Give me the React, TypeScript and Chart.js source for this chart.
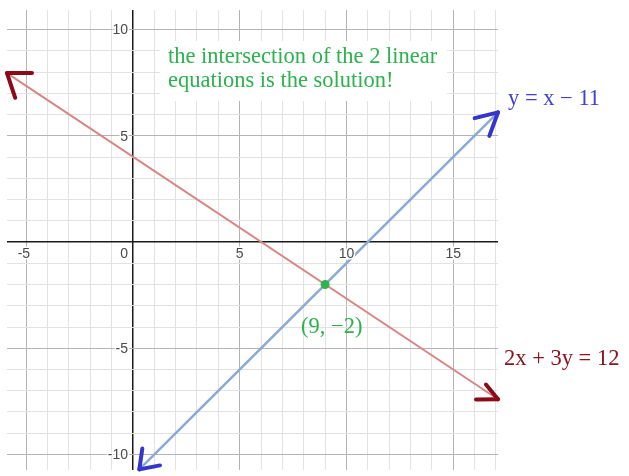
import React, { useEffect, useRef } from "react";
import { Chart, registerables } from "chart.js";

Chart.register(...registerables);

// ---- data ----
const xTickLabels = [-5, 0, 5, 10, 15];
const yTickLabels = [10, 5, -5, -10];

const redLineX = [-5.9, 17.1];
const redLineY = [7.95, -7.4];

const blueLineX = [0.3, 17.1];
const blueLineY = [-10.7, 6.1];

const solutionX = [9];
const solutionY = [-2];

const noteLines = ["the intersection of the 2 linear", "equations is the solution!"];
const blueLabel = "y = x \u2212 11";
const redLabel = "2x + 3y = 12";
const pointLabel = "(9, \u22122)";

const X_MIN = -5.9;
const X_MAX = 17.1;
const Y_MIN = -10.73;
const Y_MAX = 10.92;

const SERIF = '"Liberation Serif", "Times New Roman", serif';
const SANS = '"Liberation Sans", Arial, sans-serif';

const integerTicks = (scale: any) => {
  const ticks = [];
  for (let v = Math.ceil(scale.min); v <= Math.floor(scale.max); v++) ticks.push({ value: v });
  scale.ticks = ticks;
};

const gridColor = (c: any) =>
  c.tick.value === 0 ? "#1a1a1a" : c.tick.value % 5 === 0 ? "#b4b4b4" : "#e2e2e2";
const gridWidth = (c: any) => (c.tick.value === 0 ? 1.5 : 1);

const arrowPlugin = {
  id: "arrowheads",
  afterDatasetsDraw(chart: any) {
    const ctx = chart.ctx;
    chart.data.datasets.forEach((ds: any, i: number) => {
      if (!ds.arrows) return;
      const pts = chart.getDatasetMeta(i).data;
      if (pts.length < 2) return;
      const ends = [
        { tip: pts[0], next: pts[1], cfg: ds.arrows.start },
        { tip: pts[pts.length - 1], next: pts[pts.length - 2], cfg: ds.arrows.end },
      ];
      ctx.save();
      ctx.strokeStyle = ds.arrows.color;
      ctx.lineWidth = 4;
      ctx.lineCap = "round";
      ends.forEach(({ tip, next, cfg }) => {
        const back = Math.atan2(next.y - tip.y, next.x - tip.x);
        cfg.forEach(([deg, len]: [number, number]) => {
          const a = back + (deg * Math.PI) / 180;
          ctx.beginPath();
          ctx.moveTo(tip.x, tip.y);
          ctx.lineTo(tip.x + Math.cos(a) * len, tip.y + Math.sin(a) * len);
          ctx.stroke();
        });
      });
      ctx.restore();
    });
  },
};

const labelPlugin = {
  id: "desmosLabels",
  afterDatasetsDraw(chart: any) {
    const ctx = chart.ctx;
    const xs = chart.scales.x;
    const ys = chart.scales.y;
    const x0 = xs.getPixelForValue(0);
    const y0 = ys.getPixelForValue(0);

    ctx.save();
    ctx.font = `14px ${SANS}`;
    ctx.fillStyle = "#4a4a4a";
    ctx.strokeStyle = "#ffffff";
    ctx.lineWidth = 3;
    ctx.textBaseline = "middle";
    xTickLabels.forEach((v) => {
      const px = xs.getPixelForValue(v);
      const py = y0 + 12;
      if (v === 0) {
        ctx.textAlign = "right";
        ctx.strokeText("0", x0 - 5, py);
        ctx.fillText("0", x0 - 5, py);
        return;
      }
      const digits = String(Math.abs(v));
      const w = ctx.measureText(digits).width;
      ctx.textAlign = "left";
      const s = v < 0 ? "-" + digits : digits;
      const mw = v < 0 ? ctx.measureText("-").width : 0;
      ctx.strokeText(s, px - w / 2 - mw, py);
      ctx.fillText(s, px - w / 2 - mw, py);
    });
    ctx.textAlign = "right";
    yTickLabels.forEach((v) => {
      const py = ys.getPixelForValue(v);
      const s = String(v);
      ctx.strokeText(s, x0 - 5, py + 1);
      ctx.fillText(s, x0 - 5, py + 1);
    });

    ctx.fillStyle = "#ffffff";
    ctx.fillRect(160, 41, 287, 60);
    ctx.font = `22.5px ${SERIF}`;
    ctx.textAlign = "left";
    ctx.textBaseline = "alphabetic";
    ctx.fillStyle = "#2bb24c";
    ctx.fillText(noteLines[0], 168, 63);
    ctx.fillText(noteLines[1], 168, 87);

    const blueEnd = { x: xs.getPixelForValue(blueLineX[1]), y: ys.getPixelForValue(blueLineY[1]) };
    ctx.fillStyle = "#4141cf";
    ctx.fillText(blueLabel, blueEnd.x + 10, blueEnd.y - 7);

    const redEnd = { x: xs.getPixelForValue(redLineX[1]), y: ys.getPixelForValue(redLineY[1]) };
    ctx.fillStyle = "#8b1420";
    ctx.fillText(redLabel, redEnd.x + 6, redEnd.y - 34);

    const pt = { x: xs.getPixelForValue(solutionX[0]), y: ys.getPixelForValue(solutionY[0]) };
    ctx.fillStyle = "#2bb24c";
    ctx.fillText(pointLabel, pt.x - 24, pt.y + 48);
    ctx.restore();
  },
};

export default function App() {
  const ref = useRef<HTMLCanvasElement | null>(null);

  useEffect(() => {
    if (!ref.current) return;
    const chart = new Chart(ref.current, {
      type: "scatter",
      data: {
        datasets: [
          {
            label: "solution",
            data: solutionX.map((x, i) => ({ x, y: solutionY[i] })),
            pointRadius: 4.5,
            pointBackgroundColor: "#2fb24f",
            pointBorderColor: "#2fb24f",
            pointBorderWidth: 0,
            order: 0,
          },
          {
            label: "2x + 3y = 12",
            data: redLineX.map((x, i) => ({ x, y: redLineY[i] })),
            showLine: true,
            borderColor: "#d98585",
            borderWidth: 2,
            pointRadius: 0,
            clip: false,
            order: 1,
            arrows: {
              color: "#8b0a1a",
              start: [[-34, 25], [38, 26]],
              end: [[-34, 22], [17, 19]],
            },
          } as any,
          {
            label: "y = x - 11",
            data: blueLineX.map((x, i) => ({ x, y: blueLineY[i] })),
            showLine: true,
            borderColor: "#8aaad6",
            borderWidth: 2.5,
            pointRadius: 0,
            clip: false,
            order: 2,
            arrows: {
              color: "#3535cc",
              start: [[-37, 21], [34, 21]],
              end: [[31, 24], [-25, 25]],
            },
          } as any,
        ],
      },
      options: {
        responsive: false,
        animation: false,
        layout: { padding: { left: 7, top: 10, right: 131, bottom: 6 } },
        plugins: { legend: { display: false }, tooltip: { enabled: false } },
        scales: {
          x: {
            type: "linear",
            min: X_MIN,
            max: X_MAX,
            afterBuildTicks: integerTicks,
            border: { display: false },
            ticks: { display: false },
            grid: { drawTicks: false, color: gridColor, lineWidth: gridWidth },
          },
          y: {
            type: "linear",
            min: Y_MIN,
            max: Y_MAX,
            afterBuildTicks: integerTicks,
            border: { display: false },
            ticks: { display: false },
            grid: { drawTicks: false, color: gridColor, lineWidth: gridWidth },
          },
        },
      } as any,
      plugins: [arrowPlugin, labelPlugin],
    });
    return () => chart.destroy();
  }, []);

  return (
    <div style={{ position: "absolute", left: 0, top: 0, width: 629, height: 476, background: "#fff" }}>
      <canvas ref={ref} width={629} height={476} style={{ display: "block" }} />
    </div>
  );
}
